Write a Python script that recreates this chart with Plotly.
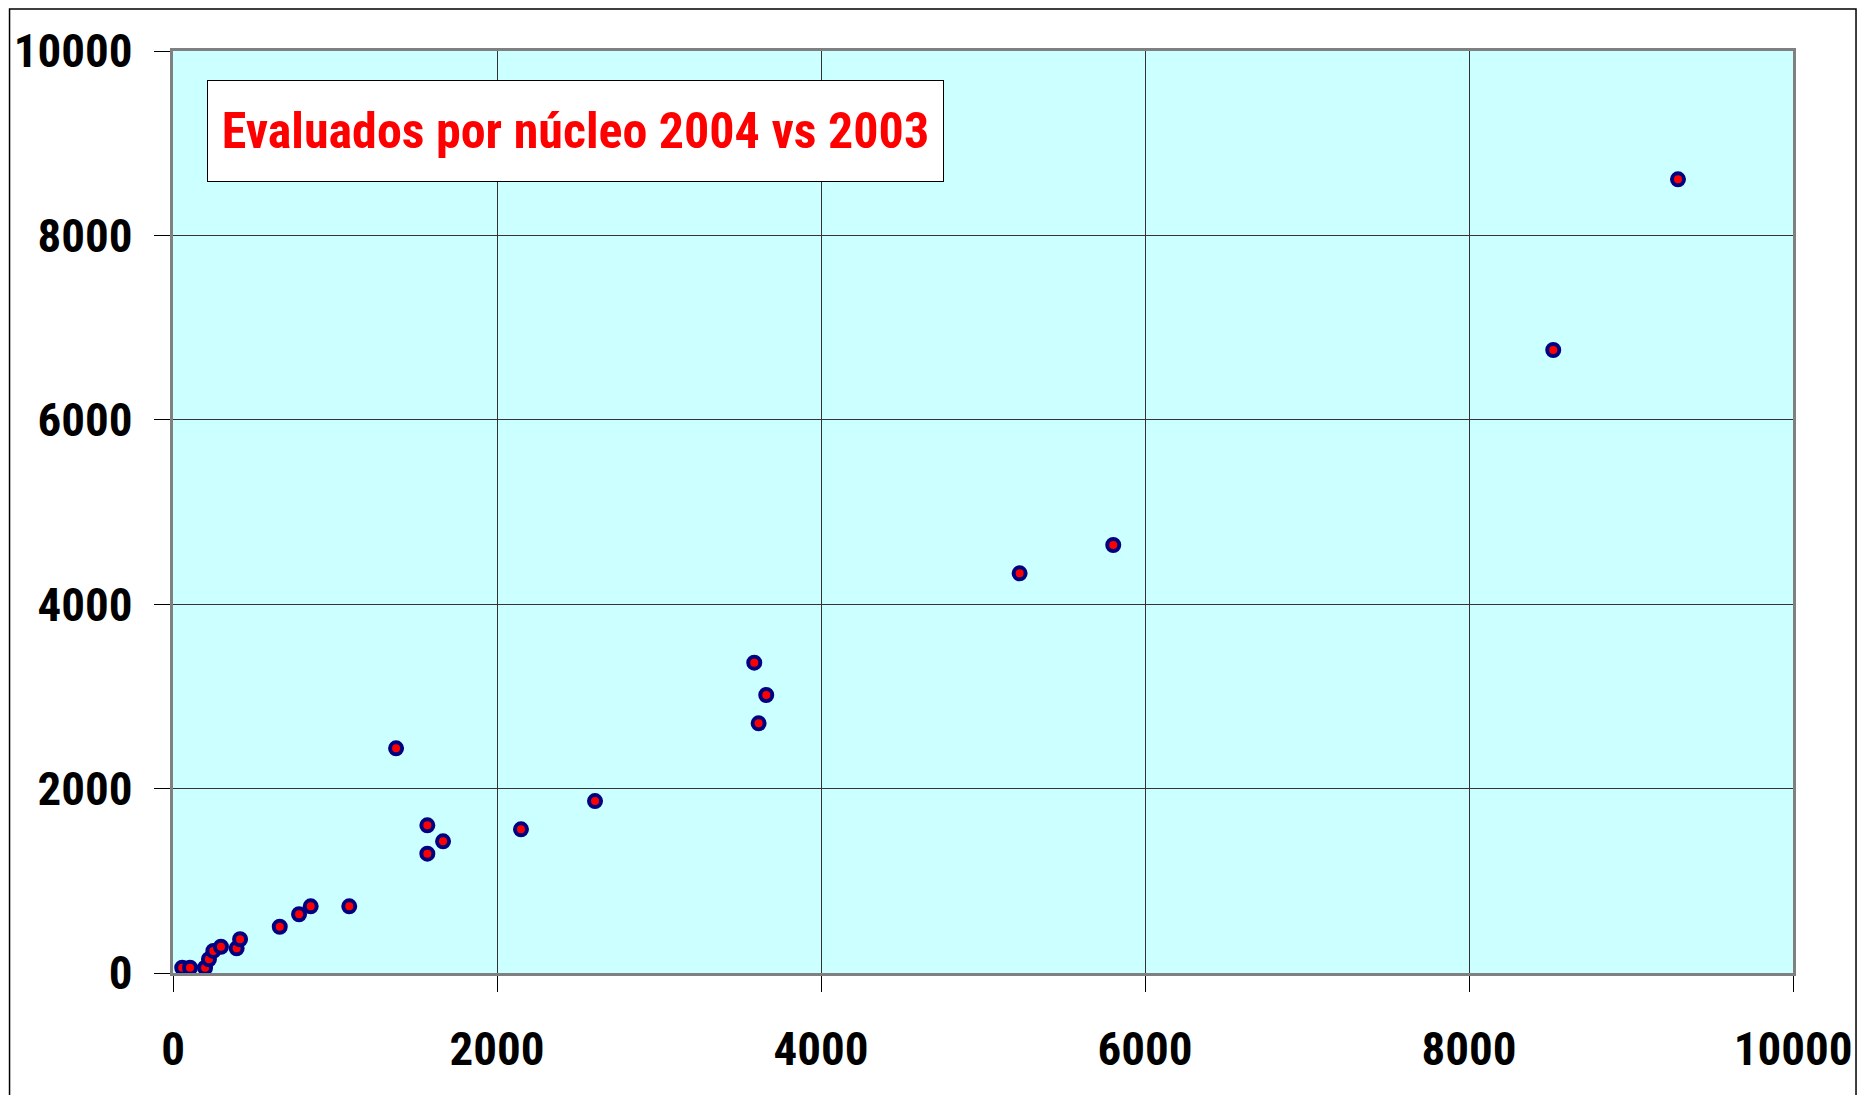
import plotly.graph_objects as go

# Data (x = 2003, y = 2004)
x_2003 = [57, 105, 198, 222, 249, 296, 393, 414, 659, 778, 850, 1088,
          1377, 1570, 1667, 1570, 2148, 2605, 3588, 3662, 3615,
          5226, 5804, 8520, 9290]
y_2004 = [57, 57, 57, 149, 239, 285, 268, 366, 502, 637, 723, 723,
          2437, 1602, 1428, 1294, 1558, 1865, 3366, 3015, 2708,
          4335, 4642, 6757, 8608]
tick_vals = [0, 2000, 4000, 6000, 8000, 10000]
tick_text = ["0", "2000", "4000", "6000", "8000", "10000"]
title_text = "Evaluados por núcleo 2004 vs 2003"

FONT = "Liberation Sans Narrow, Arial Narrow, Roboto Condensed, sans-serif"

fig = go.Figure()
fig.add_trace(go.Scatter(
    x=x_2003, y=y_2004, mode="markers",
    marker=dict(size=12, color="#FF0000", line=dict(color="#000080", width=4)),
    showlegend=False, cliponaxis=False,
))

axis_common = dict(
    range=[0, 10000], tickvals=tick_vals, ticktext=tick_text,
    showgrid=True, gridcolor="#333333", gridwidth=1,
    zeroline=False, ticks="outside", ticklen=16, tickcolor="black", tickwidth=1,
    showline=True, linecolor="#808080", linewidth=3, mirror=True,
    tickfont=dict(family=FONT, size=47, color="black", weight="bold"),
    fixedrange=True, automargin=False,
)

fig.update_layout(
    width=1858, height=1087,
    margin=dict(l=165, r=73, t=43, b=122, pad=0),
    paper_bgcolor="white", plot_bgcolor="#CCFFFF",
    xaxis=dict(**axis_common, ticklabelstandoff=17),
    yaxis=dict(**axis_common, ticklabelstandoff=12),
    annotations=[dict(
        xref="paper", yref="paper", x=0.021, y=0.9685,
        xanchor="left", yanchor="top",
        text="<b>" + title_text + "</b>", showarrow=False,
        font=dict(family=FONT, size=50, color="#FF0000"),
        bgcolor="white", bordercolor="black", borderwidth=1, borderpad=0,
        width=735, height=100, align="center", valign="middle",
    )],
    shapes=[dict(
        type="rect", xref="paper", yref="paper",
        x0=-0.1009, x1=1.0389, y0=-0.2, y1=1.0455,
        line=dict(color="black", width=1.5), layer="below",
    )],
)

fig.write_html("out.html")
